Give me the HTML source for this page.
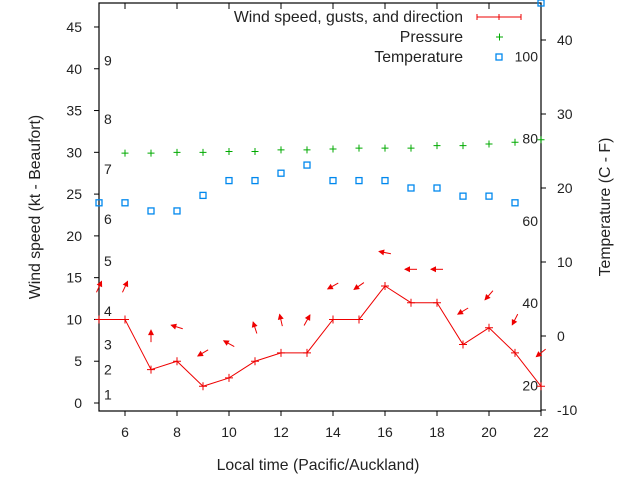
<!DOCTYPE html>
<html><head><meta charset="utf-8"><style>
body{margin:0;background:#fff}
svg text{font-family:"Liberation Sans",sans-serif;font-size:14px;fill:#222}
svg text.big{font-size:15.8px}
</style></head><body>
<svg id="chart" width="640" height="480" xmlns="http://www.w3.org/2000/svg">
<rect width="640" height="480" fill="#fff"/>
<g id="axes"></g>
<g id="marks"></g>
<g>
<text class="big" x="463" y="22" text-anchor="end">Wind speed, gusts, and direction</text>
<line x1="477" y1="17" x2="521" y2="17" stroke="#e00"/>
<line x1="477" y1="14" x2="477" y2="20" stroke="#e00"/><line x1="521" y1="14" x2="521" y2="20" stroke="#e00"/><line x1="499" y1="14" x2="499" y2="20" stroke="#e00"/>
<text class="big" x="463" y="42" text-anchor="end">Pressure</text>
<path d="M496 37h7M499.5 33.5v7" stroke="#0a0"/>
<text class="big" x="463" y="62" text-anchor="end">Temperature</text>
<rect x="496" y="54" width="6" height="6" fill="none" stroke="#08e" stroke-width="1.3"/>
</g>
<text class="big" x="318" y="470" text-anchor="middle">Local time (Pacific/Auckland)</text>
<text class="big" transform="translate(40,207) rotate(-90)" text-anchor="middle">Wind speed (kt - Beaufort)</text>
<text class="big" transform="translate(610,207) rotate(-90)" text-anchor="middle">Temperature (C - F)</text>
</svg>
<script>
const hours=[5,6,7,8,9,10,11,12,13,14,15,16,17,18,19,20,21,22];
const windKt=[10,10,4,5,2,3,5,6,6,10,10,14,12,12,7,9,6,2];
const gustKt=[13.9,13.9,8,9.1,6,7.1,9,9.9,9.9,14,14,18,16,16,11,12.9,10,6];
const arrowHeading=[25,25,0,287,239,299,342,347,29,241,235,281,270,270,239,221,207,231];
const pressureHours=[6,7,8,9,10,11,12,13,14,15,16,17,18,19,20,21,22];
const pressure=[29.9,29.9,30.0,30.0,30.1,30.1,30.3,30.3,30.4,30.5,30.5,30.5,30.8,30.8,31.0,31.2,31.5];
const tempC=[18,18,16.9,16.9,19,21,21,22,23.1,21,21,21,20,20,18.9,18.9,18];
const xTicks=[6,8,10,12,14,16,18,20,22];
const yTicks=[0,5,10,15,20,25,30,35,40,45];
const y2Ticks=[-10,0,10,20,30,40];
const beaufortLabels=["1","2","3","4","5","6","7","8","9"];
const beaufortKt=[1,4,7,11,17,22,28,34,41];
const fahrLabels=["20","40","60","80","100"];
const fahrValues=[20,40,60,80,100];

const L=99,R=541,T=3,B=411;
const X=v=>L+(v-5)/(22-5)*(R-L);
const Y=v=>403-v*8.356;
const Y2=v=>336-v*7.4;
const YF=f=>Y2((f-32)*5/9);
const NS="http://www.w3.org/2000/svg";
const axes=document.getElementById('axes'),marks=document.getElementById('marks');
function mk(tag,attrs,parent){const e=document.createElementNS(NS,tag);for(const k in attrs)e.setAttribute(k,attrs[k]);parent.appendChild(e);return e;}

const frame=mk('rect',{x:L,y:T,width:R-L,height:B-T,fill:'none',stroke:'#000','stroke-width':1.2},axes);


xTicks.forEach(t=>{
 const x=X(t);
 mk('line',{x1:x,y1:B,x2:x,y2:B+5,stroke:'#000'},axes);
 mk('line',{x1:x,y1:T,x2:x,y2:T+6,stroke:'#000'},axes);
 const tx=mk('text',{x:x,y:B+26,'text-anchor':'middle'},axes);tx.textContent=t;
 
 
});
yTicks.forEach(t=>{
 const y=Y(t);
 mk('line',{x1:L-5,y1:y,x2:L,y2:y,stroke:'#000'},axes);
 const tx=mk('text',{x:82,y:y+5,'text-anchor':'end'},axes);tx.textContent=t;
 
 
});
y2Ticks.forEach(t=>{
 const y=Y2(t);
 mk('line',{x1:R,y1:y,x2:R+5,y2:y,stroke:'#000'},axes);
 const tx=mk('text',{x:557,y:y+5},axes);tx.textContent=t;
 
 
});
beaufortLabels.forEach((s,i)=>{
 const tx=mk('text',{x:104,y:Y(beaufortKt[i])+5},axes);tx.textContent=s;
 
 
});
fahrLabels.forEach((s,i)=>{
 const tx=mk('text',{x:538,y:YF(fahrValues[i])+5,'text-anchor':'end'},axes);tx.textContent=s;
 
 
});

const wl=mk('polyline',{points:hours.map((h,i)=>X(h)+','+Y(windKt[i])).join(' '),fill:'none',stroke:'#e00','stroke-width':1},marks);


hours.forEach((h,i)=>{
 const x=X(h),y=Y(windKt[i]);
 const p=mk('path',{d:`M${x-4} ${y}h8M${x} ${y-4}v8`,stroke:'#e00'},marks);
 
 
});
hours.forEach((h,i)=>{
 const cx=X(h),cy=Y(gustKt[i]);const a=arrowHeading[i]*Math.PI/180;
 const dx=Math.sin(a),dy=-Math.cos(a),len=12;
 const x1=cx-dx*len/2,y1=cy-dy*len/2,x2=cx+dx*len/2,y2=cy+dy*len/2;
 const g=mk('g',{},marks);
 
 
 mk('line',{x1:x1,y1:y1,x2:x2,y2:y2,stroke:'#e00'},g);
 const px=-dy,py=dx;
 mk('polygon',{points:`${x2+dx*1},${y2+dy*1} ${x2-dx*5+px*3},${y2-dy*5+py*3} ${x2-dx*5-px*3},${y2-dy*5-py*3}`,fill:'#e00'},g);
});
pressureHours.forEach((h,i)=>{
 const x=X(h),y=Y(pressure[i]);
 const p=mk('path',{d:`M${x-3.5} ${y}h7M${x} ${y-3.5}v7`,stroke:'#0a0'},marks);
 
 
});
hours.forEach((h,i)=>{
 const x=X(h),y=Y2(tempC[i]);
 const r=mk('rect',{x:x-3,y:y-3,width:6,height:6,fill:'none',stroke:'#08e','stroke-width':1.3},marks);
 
 
});
</script>
</body></html>
